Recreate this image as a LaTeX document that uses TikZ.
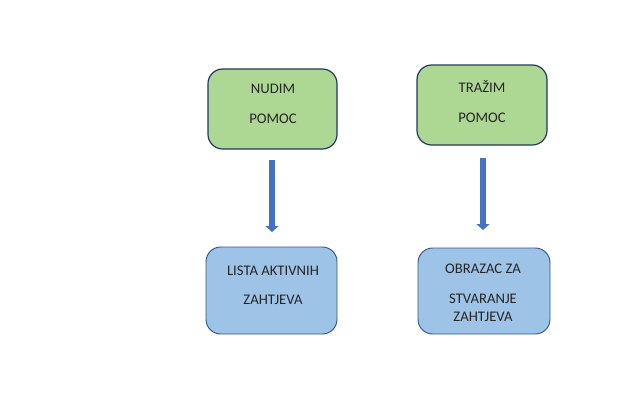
\documentclass[tikz,border=0pt]{standalone}
\usepackage{fontspec}
\setmainfont{Carlito}
\usetikzlibrary{arrows.meta}
\definecolor{grfill}{HTML}{ADD893}
\definecolor{blfill}{HTML}{9DC3E6}
\definecolor{navy}{HTML}{1F3864}
\definecolor{blborder}{HTML}{2F5597}
\definecolor{arrowblue}{HTML}{4472C4}
\begin{document}
\begin{tikzpicture}[x=0.75pt,y=-0.75pt,
  greenbox/.style={draw=navy,fill=grfill,line width=0.9pt,rounded corners=11pt,inner sep=0pt,outer sep=0pt},
  bluebox/.style={draw=blborder,fill=blfill,line width=0.7pt,rounded corners=11pt,inner sep=0pt,outer sep=0pt},
  lbl/.style={anchor=base,font=\fontsize{11pt}{13pt}\selectfont,text=black!85,inner sep=0pt},
  bigarrow/.style={draw=arrowblue,line width=4.5pt,-{Triangle[width=9.75pt,length=4.5pt]}}
]
\useasboundingbox (0,0) rectangle (639,415);
% boxes
\node[greenbox,minimum width=96.75pt,minimum height=60pt] (b1) at (272.5,109) {};
\node[greenbox,minimum width=97.5pt,minimum height=60pt] (b2) at (482,105) {};
\node[bluebox,minimum width=98.25pt,minimum height=65.25pt] (b3) at (271.5,290.5) {};
\node[bluebox,minimum width=99pt,minimum height=64.5pt] (b4) at (484,291) {};
% labels
\node[lbl] (t1a) at (273,93) {NUDIM};
\node[lbl] (t1b) at (273,123) {POMOC};
\node[lbl] (t2a) at (482,92) {TRAŽIM};
\node[lbl] (t2b) at (482,122) {POMOC};
\node[lbl] (t3a) at (273,275) {LISTA AKTIVNIH};
\node[lbl] (t3b) at (273,304) {ZAHTJEVA};
\node[lbl] (t4a) at (483,273) {OBRAZAC ZA};
\node[lbl] (t4b) at (483,303) {STVARANJE};
\node[lbl] (t4c) at (483,321) {ZAHTJEVA};
% arrows
\coordinate (a1s) at (272,149);
\coordinate (a2s) at (483,145);
\draw[bigarrow,shorten <=8.25pt,shorten >=11.25pt] (a1s) -- (a1s |- b3.north);
\draw[bigarrow,shorten <=9.75pt,shorten >=13.5pt] (a2s) -- (a2s |- b4.north);
\end{tikzpicture}
\end{document}
